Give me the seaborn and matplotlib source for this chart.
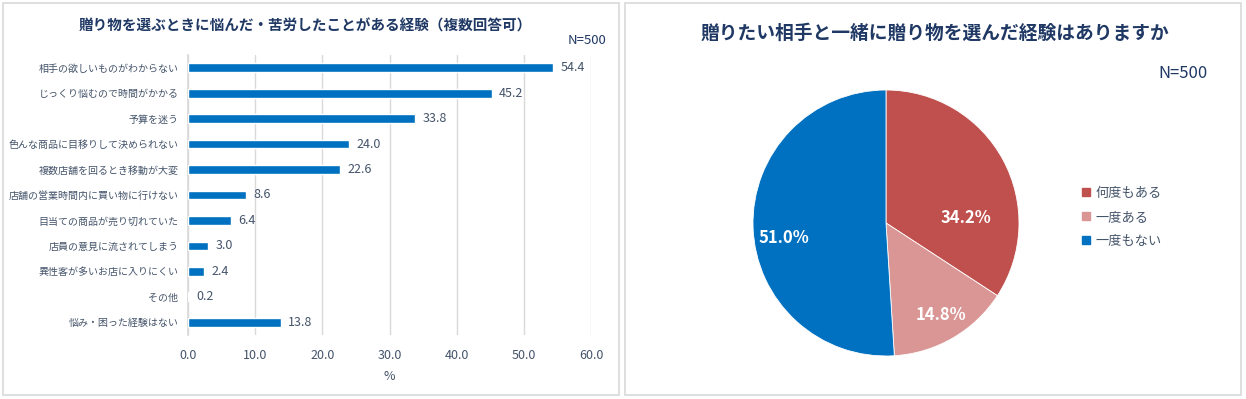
import matplotlib
matplotlib.use("Agg")
import matplotlib.pyplot as plt
import seaborn as sns
import pandas as pd
from matplotlib.patches import Rectangle
from matplotlib.lines import Line2D

# ---- data ----
bar_categories = [
    "相手の欲しいものがわからない",
    "じっくり悩むので時間がかかる",
    "予算を迷う",
    "色んな商品に目移りして決められない",
    "複数店舗を回るとき移動が大変",
    "店舗の営業時間内に買い物に行けない",
    "目当ての商品が売り切れていた",
    "店員の意見に流されてしまう",
    "異性客が多いお店に入りにくい",
    "その他",
    "悩み・困った経験はない",
]
bar_values = [54.4, 45.2, 33.8, 24.0, 22.6, 8.6, 6.4, 3.0, 2.4, 0.2, 13.8]
x_ticks = [0, 10, 20, 30, 40, 50, 60]

pie_labels = ["何度もある", "一度ある", "一度もない"]
pie_values = [34.2, 14.8, 51.0]
pie_colors = ["#C0504D", "#D99694", "#0070C0"]

left_title = "贈り物を選ぶときに悩んだ・苦労したことがある経験（複数回答可）"
right_title = "贈りたい相手と一緒に贈り物を選んだ経験はありますか"
n_text = "N=500"

# ---- style ----
sns.set_theme(style="white")
plt.rcParams["font.family"] = ["Noto Sans CJK JP", "DejaVu Sans"]

TEXT = "#44546A"
TITLE = "#1F3864"
BAR = "#0070C0"
GRID = "#D9D9D9"

W, H = 1246, 399
fig = plt.figure(figsize=(W / 100, H / 100), dpi=100)
fig.patch.set_facecolor("white")

# panel borders
for (x0, x1) in [(3, 619), (625, 1241)]:
    fig.add_artist(Rectangle((x0 / W, 1 - 395 / H), (x1 - x0) / W, (395 - 3) / H,
                             transform=fig.transFigure, fill=False,
                             edgecolor=GRID, linewidth=1.2))

# ---- bar chart ----
ax = fig.add_axes([188 / W, 1 - 335 / H, (591 - 188) / W, (335 - 55) / H])
df = pd.DataFrame({"cat": bar_categories, "val": bar_values})
sns.barplot(data=df, x="val", y="cat", color=BAR, width=0.34, saturation=1,
            ax=ax, zorder=3)
ax.set_xlim(0, 60)
ax.set_ylim(len(bar_categories) - 0.5, -0.5)
ax.set_xticks(x_ticks)
ax.set_xticklabels([f"{t:.1f}" for t in x_ticks], color=TEXT, fontsize=9)
ax.tick_params(axis="y", labelsize=7.2, labelcolor=TEXT, length=0, pad=7)
ax.tick_params(axis="x", length=0, pad=10)
ax.set_ylabel("")
ax.set_xlabel("%", color=TEXT, fontsize=9, labelpad=6)
ax.xaxis.grid(True, color=GRID, linewidth=1, zorder=0)
ax.yaxis.grid(False)
for s in ["top", "right", "bottom"]:
    ax.spines[s].set_visible(False)
ax.spines["left"].set_color(GRID)
ax.spines["left"].set_zorder(1)
for i, v in enumerate(bar_values):
    ax.text(v + 1.1, i, f"{v:.1f}", va="center", ha="left", color=TEXT, fontsize=9)

fig.text(305 / W, 1 - 26 / H, left_title, ha="center", va="center",
         color=TITLE, fontsize=10.5, fontweight="bold")
fig.text(606 / W, 1 - 40 / H, n_text, ha="right", va="center",
         color=TITLE, fontsize=9.5)

# ---- pie chart ----
pax = fig.add_axes([753 / W, 1 - 356 / H, 266 / W, 266 / H])
wedges, _ = pax.pie(pie_values, colors=pie_colors, startangle=90,
                    counterclock=False, radius=1,
                    wedgeprops=dict(edgecolor="white", linewidth=0.6))
pax.set_xlim(-1.0, 1.0)
pax.set_ylim(-1.0, 1.0)
pax.set_aspect("equal")
label_pos = [(0.60, 0.04), (0.41, -0.69), (-0.77, -0.11)]
for v, (lx, ly) in zip(pie_values, label_pos):
    pax.text(lx, ly, f"{v:.1f}%", ha="center", va="center", color="white",
             fontsize=12, fontweight="bold")

fig.text(935 / W, 1 - 33 / H, right_title, ha="center", va="center",
         color=TITLE, fontsize=13.5, fontweight="bold")
fig.text(1208 / W, 1 - 73 / H, n_text, ha="right", va="center",
         color=TITLE, fontsize=12)

handles = [Line2D([0], [0], marker="s", linestyle="", markersize=6,
                  markerfacecolor=c, markeredgecolor=c) for c in pie_colors]
leg = fig.legend(handles, pie_labels, loc="upper left",
                 bbox_to_anchor=(1074 / W, 1 - 180 / H), frameon=False,
                 fontsize=9.5, labelcolor=TEXT, handlelength=0.8,
                 handletextpad=0.3, labelspacing=0.85, borderpad=0)

fig.savefig("out.png", dpi=100, facecolor="white")
